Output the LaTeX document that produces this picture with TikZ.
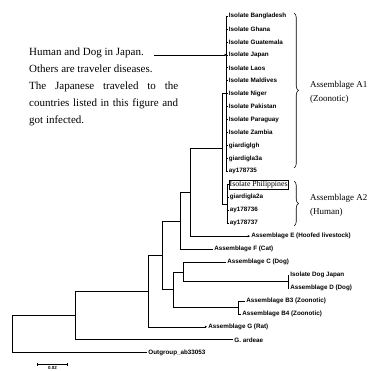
\documentclass[tikz,border=0pt]{standalone}
\usepackage{fontspec}
\setmainfont{Liberation Serif}
\newfontfamily\leaffont{Liberation Sans}
\usetikzlibrary{arrows.meta,decorations.pathreplacing}

\begin{document}
\begin{tikzpicture}[
    x=1pt,y=-1pt,
    branch/.style={draw=black,line width=0.6pt},
    tipped/.style={branch,-{Stealth[length=2.4pt,width=2.2pt]}},
    pointer/.style={branch,-{Latex[length=3pt,width=2.6pt]}},
    leaf/.style={anchor=west,inner sep=1.2pt,font=\leaffont\bfseries\fontsize{6.3}{7}\selectfont},
    note/.style={anchor=base west,inner sep=0pt,font=\fontsize{11}{13}\selectfont},
    clade/.style={anchor=west,inner sep=0pt,font=\fontsize{9}{10}\selectfont},
    bracket/.style={draw=black,line width=0.6pt,decorate,decoration={brace,amplitude=4.5pt}}
]
\useasboundingbox (0,0) rectangle (374,371);

\foreach \txt [count=\i] in {Human and Dog in Japan.,Others are traveler diseases.,\makebox[149pt][s]{The Japanese traveled to the},\makebox[149pt][s]{countries listed in this figure and},got infected.}
    \node[note] (note\i) at (29,{38.5+17*\i}) {\txt};

% assemblage A1
\coordinate (nA1) at (226,93.7);
\foreach \cty [count=\i from 0] in {Bangladesh,Ghana,Guatemala,Japan,Laos,Maldives,Niger,Pakistan,Paraguay,Zambia}
    \node[leaf] (a\i) at (227.5,{16+12.95*\i}) {Isolate \cty};
\node[leaf] (a10) at (227.5,145.5) {giardiglgh};
\node[leaf] (a11) at (227.5,158.45) {giardigla3a};
\node[leaf] (a12) at (227.5,171.4) {ay178735};
\foreach \i in {0,...,12} \draw[branch] (nA1) |- (a\i.west);

% assemblage A2
\coordinate (nA2) at (227,203.8);
\node[leaf,draw,inner sep=1pt,font=\fontsize{7.8}{9}\selectfont] (b0) at (228.5,184.35) {Isolate Philippines};
\node[leaf] (b1) at (228.5,197.3) {giardigla2a};
\node[leaf] (b2) at (228.5,210.25) {ay178736};
\node[leaf] (b3) at (228.5,223.2) {ay178737};
\foreach \i in {0,...,3} \draw[branch] (nA2) |- (b\i.west);

\draw[pointer,shorten <=10pt] (note1.east |- a3.west) -- (a3.west);

% rest of the tree
\coordinate (nAA) at (222,148.75);
\coordinate (nE) at (190,192.45);
\coordinate (nF) at (180,220.8);
\coordinate (nCD) at (183,271.8);
\coordinate (nD) at (288,281.5);
\coordinate (nB34) at (238,307.4);
\coordinate (nH) at (173,289.6);
\coordinate (nI) at (162,255.2);
\coordinate (nB) at (148,291);
\coordinate (nR1) at (75,315.4);
\coordinate (root) at (12,334.05);

\node[leaf] (lE) at (250,236.15) {Assemblage E (Hoofed livestock)};
\node[leaf] (lF) at (213,249.1) {Assemblage F (Cat)};
\node[leaf] (lC) at (226,262.05) {Assemblage C (Dog)};
\node[leaf] (lDJ) at (289,275) {Isolate Dog Japan};
\node[leaf] (lD) at (289,287.95) {Assemblage D (Dog)};
\node[leaf] (lB3) at (245,300.9) {Assemblage B3 (Zoonotic)};
\node[leaf] (lB4) at (241,313.85) {Assemblage B4 (Zoonotic)};
\node[leaf] (lG) at (207,326.8) {Assemblage G (Rat)};
\node[leaf] (lGa) at (233,339.75) {G. ardeae};
\node[leaf] (lOut) at (147,352.7) {Outgroup\_ab33053};

\draw[branch] (nAA) |- (nA1);
\draw[branch] (nAA) |- (nA2);
\draw[branch] (nE) |- (nAA);
\draw[tipped] (nE) |- (lE.west);
\draw[branch] (nF) |- (nE);
\draw[branch] (nF) |- (lF.west);
\draw[branch] (nD) |- (lDJ.west);
\draw[branch] (nD) |- (lD.west);
\draw[branch] (nCD) |- (lC.west);
\draw[branch] (nCD) |- (nD);
\draw[branch] (nB34) |- (lB3.west);
\draw[branch] (nB34) |- (lB4.west);
\draw[branch] (nH) |- (nCD);
\draw[branch] (nH) |- (nB34);
\draw[branch] (nI) |- (nF);
\draw[branch] (nI) |- (nH);
\draw[branch] (nB) |- (nI);
\draw[tipped] (nB) |- (lG.west);
\draw[branch] (nR1) |- (nB);
\draw[branch] (nR1) |- (lGa.west);
\draw[branch] (root) |- (nR1);
\draw[branch] (root) |- (lOut.west);

% clade braces
\coordinate (brA1s) at (294,13);
\coordinate (brA1e) at (294,168);
\coordinate (brA2s) at (294,181);
\coordinate (brA2e) at (294,226);
\draw[bracket] (brA1s) -- (brA1e);
\draw[bracket] (brA2s) -- (brA2e);
\node[clade] (cA1) at (310,85) {Assemblage A1};
\node[clade] (cA1b) at (310,99) {(Zoonotic)};
\node[clade] (cA2) at (310,198) {Assemblage A2};
\node[clade] (cA2b) at (310,212) {(Human)};

% scale
\coordinate (sb0) at (37,364);
\coordinate (sb1) at (68,364);
\draw[branch,{Bar[width=3pt]}-{Bar[width=3pt]}] (sb0) -- (sb1);
\node[anchor=north,inner sep=0pt,font=\leaffont\bfseries\fontsize{4.5}{5}\selectfont] (sbl) at (52.5,366.5) {0.02};
\end{tikzpicture}
\end{document}
